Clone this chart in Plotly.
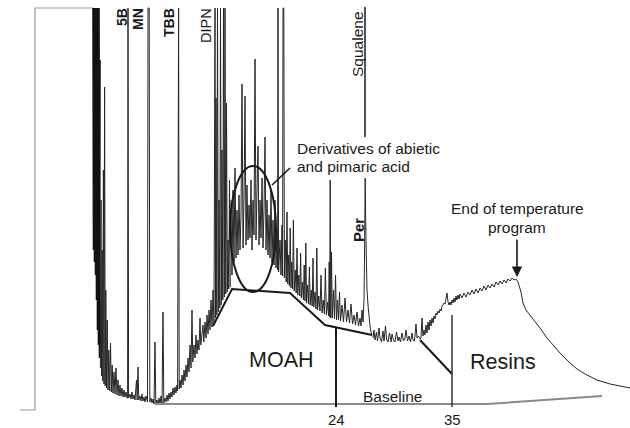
import plotly.graph_objects as go

# ---- chromatogram signal (x: retention position, y: detector level, drawn on reversed axis) ----
box_x = [20, 35, 35, 93]
box_y = [410, 410, 8, 8]

solvent_x = [93, 93.5, 94, 94.5, 95, 95.5, 96, 96.5, 97, 97.5, 98, 98.5, 99, 99.5, 100]
solvent_y = [8, 250, 8, 262, 8, 275, 8, 300, 8, 330, 8, 345, 8, 358, 60]

early_x = [100.4, 101, 101.6, 102.2, 102.8, 103.4, 104,
           104.6, 105.2, 105.8, 106.5, 107.2, 108, 108.8, 109.6, 110.5, 111.3, 112.2, 113, 114, 115, 116, 117,
           118, 119, 120, 121, 122, 123, 124, 125, 126, 127, 127.6, 128, 128.6, 130, 131, 132, 133, 134, 135,
           136.5, 137.2, 138, 138.8, 140, 141, 142, 143, 144, 145, 146, 147, 147.5, 148, 149.2, 149.8, 151, 152,
           153, 154, 155, 155.8, 157, 158, 159, 160, 161, 162, 163, 163.8, 165, 166, 167, 168, 169, 170, 171,
           172, 173, 174, 175, 176, 177, 177.6, 178, 178.6, 179.2, 180, 181, 182, 183, 184, 185, 186, 187, 188,
           189, 190, 191, 192, 192.8, 194, 195, 196, 197, 198, 199, 200, 200.8, 202, 203, 203.8, 205, 206, 207,
           208, 209, 210, 211, 212, 213, 214, 215, 215.6, 216, 216.8, 217.5, 218.3, 219, 219.8, 220.5, 221.3,
           222, 222.8, 223.5, 224.3, 225, 225.8, 226.5, 227.3, 228, 228.8, 229.5, 230.3]
early_y = [368, 200, 376, 250, 381, 170, 384,
           87, 386, 290, 388, 320, 390, 350, 391, 343, 392, 365, 393, 372, 394, 368, 395,
           380, 396, 385, 396, 388, 397, 390, 397, 392, 398, 398, 8, 398, 394, 399, 392, 399, 395, 400,
           380, 400, 367, 400, 396, 401, 394, 401, 397, 402, 396, 402, 402, 8, 8, 402, 398, 403,
           399, 404, 342, 404, 400, 404, 398, 404, 396, 404, 312, 403, 398, 402, 395, 401, 393, 399, 392,
           397, 388, 395, 387, 393, 385, 391, 8, 8, 389, 380, 388, 375, 385, 370, 381, 365, 377, 358,
           372, 345, 368, 310, 362, 345, 358, 335, 354, 340, 350, 318, 345, 335, 325, 342, 322, 338, 315,
           334, 310, 330, 300, 327, 290, 323, 8, 318, 98, 315, 8, 312, 200, 308, 8, 305,
           150, 300, 8, 297, 8, 294, 103, 292, 240, 289, 180, 287]

acid_x = [231, 232, 233, 234, 235, 236, 237, 238, 239, 240, 241, 242, 243, 244, 245, 246, 247, 248, 249, 250,
          251, 252, 253, 254, 255, 256, 257, 258, 259, 260, 261, 262, 263, 264, 265, 266, 267, 268, 269, 270,
          271, 272, 273, 274, 275, 276, 277, 277.6, 278, 278.6, 280, 281, 282, 282.6, 283, 283.8,
          284.4, 285.3, 286.2, 287, 287.8, 288.6, 289.4, 290.2, 291, 291.8, 292.6, 293.4, 294.2, 295.2, 296.2,
          297, 297.8, 298.8, 299.8, 300.6, 301.4, 302.4, 303.4, 304.2, 305, 305.8, 306.6, 307.6, 308.6, 309.4,
          310.2, 311.2, 312.2, 313, 313.8, 315, 316, 316.8, 317.6, 318.8, 320, 321, 322, 323.2, 324.4, 325.4,
          326.4, 327.6, 328.6, 329.2, 329.7, 330.2, 330.8, 331.5, 332.3, 333.5, 334.5, 335.5, 336.5, 337.5,
          338.5, 339.5, 340.5, 342, 343.5, 345, 346.5, 348, 349.5, 351, 352.5, 354, 355.5, 357, 358.5, 360,
          361, 362, 363, 364, 364.6, 365.2, 365.8, 366.4, 367, 368, 369, 370, 371, 372]
acid_y = [200, 275, 190, 262, 168, 258, 210, 255, 195, 250, 215, 84, 248, 200, 96, 245, 185, 240, 205, 238,
          180, 250, 200, 235, 59, 240, 190, 146, 245, 200, 238, 178, 248, 210, 137, 250, 200, 255, 215, 258,
          190, 262, 220, 265, 200, 268, 230, 270, 8, 272, 240, 275, 225, 276, 8, 8,
          278, 240, 282, 212, 284, 255, 286, 228, 288, 262, 289, 220, 291, 270, 293,
          248, 295, 275, 296, 253, 298, 282, 300, 265, 301, 243, 303, 285, 304, 267,
          305, 290, 306, 258, 307, 292, 309, 248, 310, 296, 311, 275, 313, 300, 314, 268,
          315, 302, 316, 262, 317, 180, 318, 252, 318, 290, 319, 275, 320, 300,
          320, 292, 321, 305, 322, 298, 322, 310, 323, 304, 324, 315, 325, 312, 326, 318,
          326, 310, 322, 300, 250, 178, 230, 262, 290, 305, 318, 326, 332, 335]

late_x = [373, 374, 375, 376.5, 377.5, 379, 380, 381.5, 383, 384, 385.5, 386.5, 388, 389.5, 391, 392, 393.5,
          395, 396.5, 398, 399, 400.5, 402, 403.5, 405, 406, 407.5, 409, 410.5, 412, 413, 414.5, 416, 417,
          418.5, 420, 421, 422, 423, 424, 425, 426, 427, 428, 429, 430, 431, 432,
          433, 434, 435, 436, 437, 438, 439, 440, 441, 442, 443, 444, 445, 446, 447, 448, 449, 450, 451, 452,
          453, 454, 455, 456, 457, 458, 459, 460, 462, 464, 466, 468, 470, 472, 474, 476, 478, 480, 482, 484,
          486, 488, 490, 492, 494, 496, 498, 500, 502, 504, 506, 508, 510, 512, 514, 516, 518, 521, 523, 526,
          530, 535, 540, 547, 553, 560, 570, 577, 585, 597, 610, 620, 630]
late_y = [338, 330, 340, 332, 341, 328, 338, 342, 331, 341, 326, 339, 342, 333, 342, 334, 340,
          342, 332, 341, 337, 342, 333, 341, 338, 330, 341, 336, 342, 333, 340, 341, 324, 338,
          336, 339, 338, 318, 336, 330, 335, 325, 333, 322, 330, 320, 326, 318,
          323, 316, 319, 313, 315, 311, 313, 309, 311, 306, 305, 303, 304, 298, 293, 302, 305, 302, 305, 300,
          303, 298, 302, 296, 300, 295, 299, 294, 298, 293, 297, 292, 295, 290, 294, 289, 293, 288, 291, 286,
          290, 285, 288, 284, 287, 282, 285, 281, 284, 280, 283, 279, 281, 278, 280, 279, 282, 292, 303, 310,
          315, 322, 328, 338, 345, 353, 363, 369, 374, 380, 384, 386, 388]

# ---- annotation geometry ----
moah_x = [213, 232, 290, 325, 372]
moah_y = [326, 289, 293, 325, 335]
resin_cut_x = [420, 452]
resin_cut_y = [340, 374]
baseline_x = [155, 487, 602]
baseline_y = [404, 404, 396]
cut24_x = [336, 336]
cut24_y = [327, 407]
cut35_x = [452, 452]
cut35_y = [315, 407]
squalene_x = [365, 365]
squalene_y = [7, 137]
leader_x = [272, 290]
leader_y = [185, 168]

FONT = "Liberation Sans, Arial, sans-serif"
INK = "#1a1a1a"

fig = go.Figure()
fig.add_trace(go.Scatter(x=box_x, y=box_y, mode="lines", line=dict(color="#9a9a9a", width=1.2), hoverinfo="skip"))
fig.add_trace(go.Scatter(x=solvent_x, y=solvent_y, mode="lines", line=dict(color="#111111", width=1.6), hoverinfo="skip"))
for xs, ys in [(early_x, early_y), (acid_x, acid_y), (late_x, late_y)]:
    fig.add_trace(go.Scatter(x=xs, y=ys, mode="lines", line=dict(color="#262626", width=1.0), hoverinfo="skip"))

fig.add_trace(go.Scatter(x=baseline_x, y=baseline_y, mode="lines", line=dict(color="#8a8a8a", width=2)))
fig.add_trace(go.Scatter(x=moah_x, y=moah_y, mode="lines", line=dict(color=INK, width=2)))
fig.add_trace(go.Scatter(x=resin_cut_x, y=resin_cut_y, mode="lines", line=dict(color=INK, width=2)))
fig.add_trace(go.Scatter(x=cut24_x, y=cut24_y, mode="lines", line=dict(color=INK, width=2)))
fig.add_trace(go.Scatter(x=cut35_x, y=cut35_y, mode="lines", line=dict(color="#333333", width=1.5)))
fig.add_trace(go.Scatter(x=squalene_x, y=squalene_y, mode="lines", line=dict(color=INK, width=1.5)))
fig.add_trace(go.Scatter(x=leader_x, y=leader_y, mode="lines", line=dict(color=INK, width=1.6)))

fig.add_shape(type="circle", xref="x", yref="y", x0=230, x1=276, y0=166, y1=292,
              line=dict(color=INK, width=2))

def txt(x, y, s, size, angle=0, bold=False, anchor="center"):
    if bold:
        s = "<b>" + s + "</b>"
    fig.add_annotation(x=x, y=y, text=s, showarrow=False, textangle=angle, xanchor=anchor,
                       yanchor="middle", font=dict(family=FONT, size=size, color=INK))

txt(122, 17, "5B", 14, -90, True)
txt(138, 19, "MN", 14, -90, True)
txt(169, 23, "TBB", 14, -90, True)
txt(206, 26, "DIPN", 14.5, -90)
txt(357, 44, "Squalene", 15.5, -90)
txt(358, 230, "Per", 15, -90, True)
txt(295, 148, "Derivatives of abietic", 15.5, anchor="left")
txt(295, 166, "and pimaric acid", 15.5, anchor="left")
txt(517, 208, "End of temperature", 15.5)
txt(517, 227, "program", 15.5)
txt(281, 360, "MOAH", 21.5)
txt(503, 362, "Resins", 21.5)
txt(392, 396, "Baseline", 15.5)
txt(336, 419, "24", 15)
txt(452, 419, "35", 15)

fig.add_annotation(x=517, y=277, ax=517, ay=238, axref="x", ayref="y", xref="x", yref="y",
                   showarrow=True, arrowhead=2, arrowsize=1.3, arrowwidth=1.6, arrowcolor=INK, text="")

fig.update_layout(width=630, height=428, margin=dict(l=0, r=0, t=0, b=0),
                  paper_bgcolor="white", plot_bgcolor="white", showlegend=False)
fig.update_xaxes(range=[0, 630], visible=False, fixedrange=True)
fig.update_yaxes(range=[428, 0], visible=False, fixedrange=True)

fig.write_html("out.html", config={"displayModeBar": False},
               post_script="document.body.style.margin='0';document.body.style.padding='0';")
